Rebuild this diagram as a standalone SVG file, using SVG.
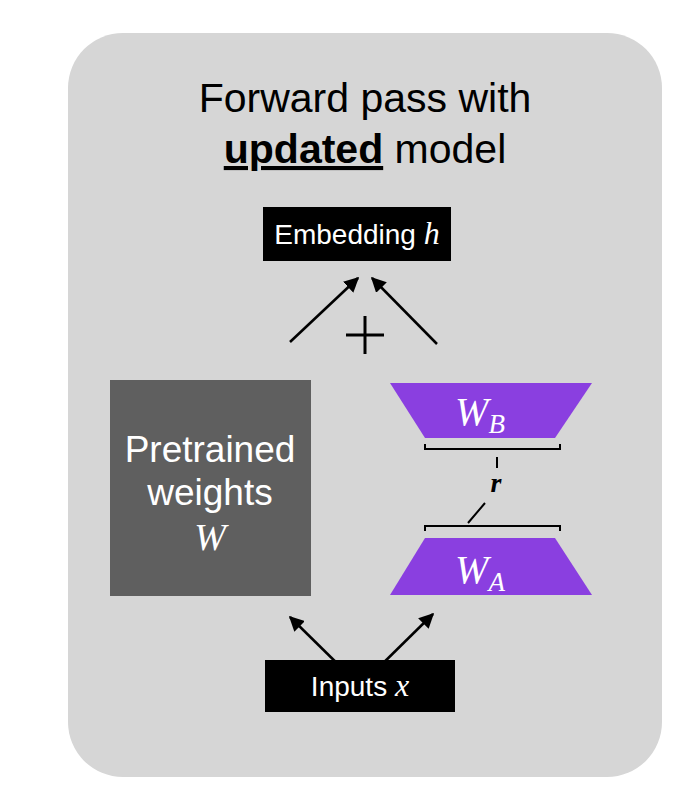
<svg xmlns="http://www.w3.org/2000/svg" width="690" height="808" viewBox="0 0 690 808">
<style>
.t{font-family:"Liberation Sans",Arial,sans-serif;fill:#000}
.w{font-family:"Liberation Sans",Arial,sans-serif;fill:#fff}
.m{font-family:"Liberation Serif","Times New Roman",serif;font-style:italic;fill:#fff}
.a{stroke:#000;stroke-width:2.5;fill:none;marker-end:url(#ah)}
.b{stroke:#000;stroke-width:2;fill:none}
</style>
<defs><marker id="ah" viewBox="0 0 10 10" refX="9" refY="5" markerWidth="6" markerHeight="6" orient="auto"><path d="M0,0 L10,5 L0,10 z" fill="#000"/></marker></defs>
<rect width="690" height="808" fill="#fff"/>
<rect x="68" y="33" width="594" height="744" rx="55" fill="#d6d6d6"/>
<text class="t" x="365" y="112" font-size="41" text-anchor="middle">Forward pass with</text>
<text class="t" x="365" y="163" font-size="41" text-anchor="middle"><tspan font-weight="bold" text-decoration="underline">updated</tspan> model</text>
<g id="embedding"><rect x="263" y="207" width="188" height="54" fill="#000"/><text class="w" x="357" y="244" font-size="28" text-anchor="middle">Embedding <tspan class="m" font-size="32">h</tspan></text></g>
<g id="pretrained"><rect x="110" y="380" width="201" height="216" fill="#5f5f5f"/>
<text class="w" x="210" y="462" font-size="37" text-anchor="middle">Pretrained</text>
<text class="w" x="210" y="505" font-size="37" text-anchor="middle">weights</text>
<text class="m" x="210" y="550" font-size="38" text-anchor="middle">W</text></g>
<g id="wb"><polygon points="390,383 592,383 555,438 425,438" fill="#8a3fe0"/><text class="m" x="480" y="425" font-size="40" text-anchor="middle">W<tspan font-size="27" dy="8">B</tspan></text></g>
<g id="wa"><polygon points="425,538 555,538 592,595 390,595" fill="#8a3fe0"/><text class="m" x="480" y="583" font-size="40" text-anchor="middle">W<tspan font-size="27" dy="8">A</tspan></text></g>
<g id="rank"><path class="b" d="M425,444 V449 H560 V444"/><path class="b" d="M425,531 V526 H560 V531"/><path class="b" d="M497,457 V468 M468,523 L485,503"/>
<text x="496" y="492" font-family="Liberation Serif,serif" font-style="italic" font-weight="bold" font-size="28" text-anchor="middle">r</text></g>
<g id="inputs"><rect x="265" y="660" width="190" height="52" fill="#000"/><text class="w" x="360" y="696" font-size="28" text-anchor="middle">Inputs <tspan class="m" font-size="32">x</tspan></text></g>
<g id="connectors">
<path class="a" d="M290,342 L358,278"/><path class="a" d="M437,344 L372,278"/>
<path class="a" d="M352,678 L290,617"/><path class="a" d="M368,678 L433,614"/>
<path d="M346,335 H384 M365,316 V354" stroke="#000" stroke-width="3"/>
</g>
</svg>
